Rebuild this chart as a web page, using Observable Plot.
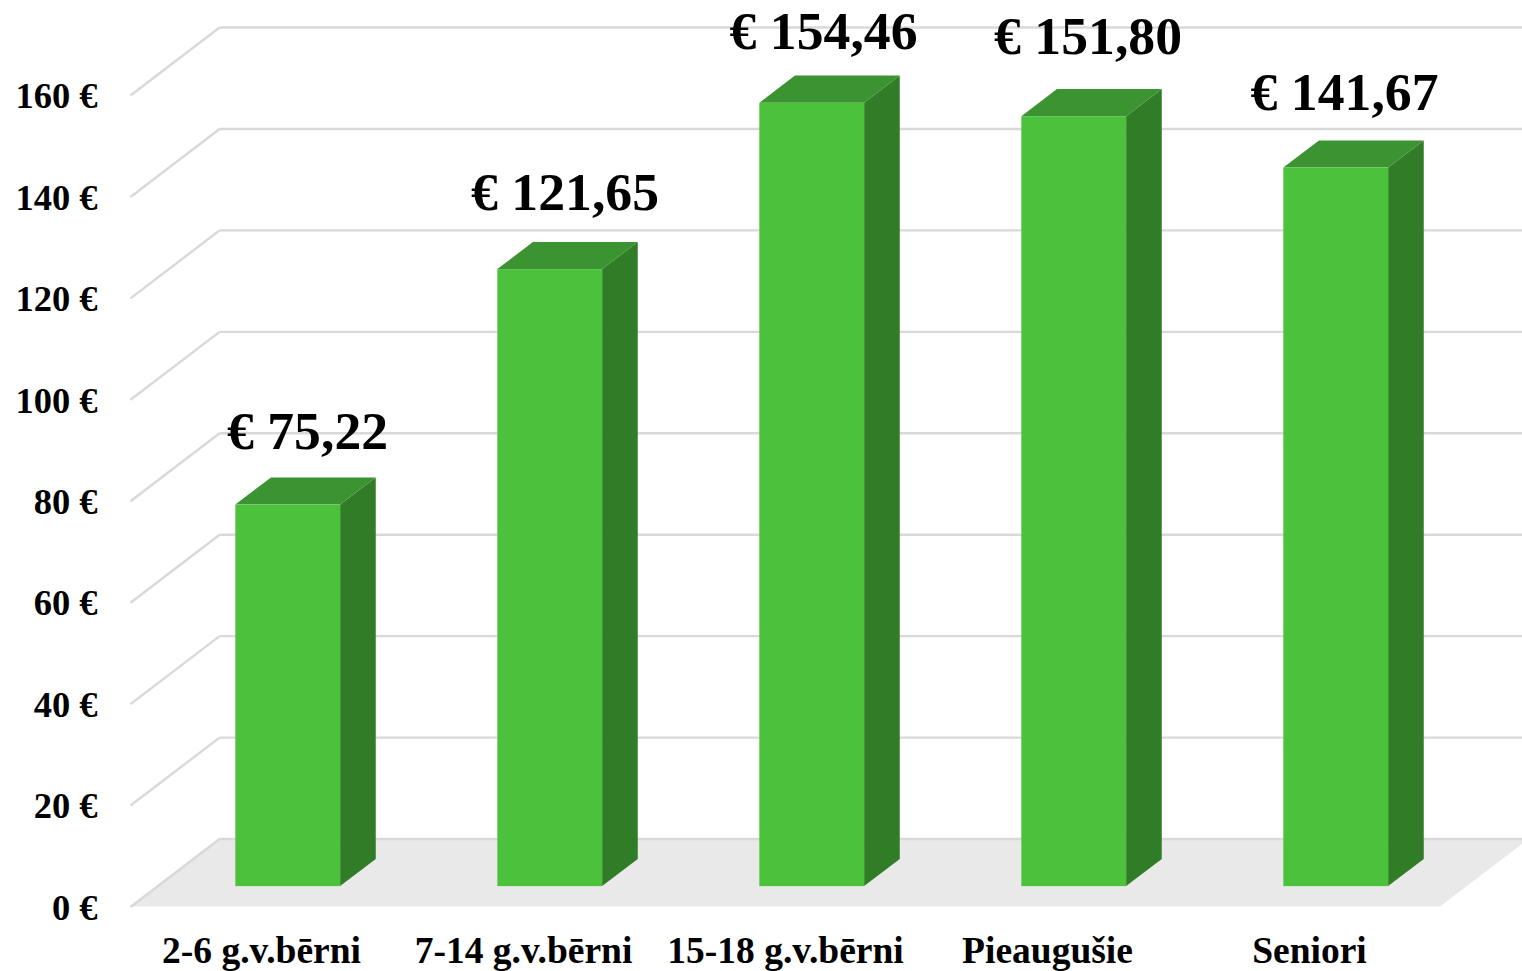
<!DOCTYPE html>
<html><head><meta charset="utf-8">
<script src="https://cdn.jsdelivr.net/npm/d3@7"></script>
<script src="https://cdn.jsdelivr.net/npm/@observablehq/plot@0.6"></script>
<style>html,body{margin:0;padding:0;background:#fff}svg{display:block}</style>
</head><body><div id="c"></div>
<script>
const categories = ["2-6 g.v.bērni","7-14 g.v.bērni","15-18 g.v.bērni","Pieaugušie","Seniori"];
const values = [75.22,121.65,154.46,151.80,141.67];
const valueLabels = ["€ 75,22","€ 121,65","€ 154,46","€ 151,80","€ 141,67"];
const yTicks = [0,20,40,60,80,100,120,140,160];

// Oblique projection: depth d in 0..1 shifts a point right and up, in data units.
const DX = 0.34, DY = 13.4;
const barFrontD = 0.30, barBackD = 0.70, barHalf = 0.2;
const px = (x,d) => x + d*DX, py = (y,d) => y + d*DY;
// The reference's value labels were hand-placed, so each carries its own pixel nudge.
const labelNudgeX = [1.5,-3,-6.5,-4,-9.5], labelNudgeY = [-60,-63,-58,-66,-62];

const rows = categories.map((c,i)=>({c,i,v:values[i],label:valueLabels[i],l:i+.5-barHalf,r:i+.5+barHalf}));

const floor = [{y:py(0,0),x1:0,x2:5},{y:py(0,1),x1:px(0,1),x2:px(5,1)}];

const marks = [
  Plot.areaX(floor,{y:"y",x1:"x1",x2:"x2",fill:"#e9e9e9",curve:"linear"}),
  Plot.link(yTicks,{x1:0,y1:d=>d,x2:px(0,1),y2:d=>py(d,1),stroke:"#d9d9d9",strokeWidth:2.4}),
  Plot.link(yTicks,{x1:px(0,1),y1:d=>py(d,1),x2:px(5,1),y2:d=>py(d,1),stroke:"#d9d9d9",strokeWidth:2.4}),
];
for (const b of rows) {
  marks.push(Plot.areaY([{x:px(b.r,barFrontD),y1:py(0,barFrontD),y2:py(b.v,barFrontD)},{x:px(b.r,barBackD),y1:py(0,barBackD),y2:py(b.v,barBackD)}],
    {x:"x",y1:"y1",y2:"y2",fill:"#317c27"}));
  marks.push(Plot.areaX([{y:py(b.v,barFrontD),x1:px(b.l,barFrontD),x2:px(b.r,barFrontD)},{y:py(b.v,barBackD),x1:px(b.l,barBackD),x2:px(b.r,barBackD)}],
    {y:"y",x1:"x1",x2:"x2",fill:"#3b9331"}));
  marks.push(Plot.rect([b],{x1:d=>px(d.l,barFrontD),x2:d=>px(d.r,barFrontD),y1:d=>py(0,barFrontD),y2:d=>py(d.v,barFrontD),fill:"#4cc13c"}));
  marks.push(Plot.text([b],{x:d=>px(d.i+.5,.5),y:d=>py(d.v,.5),text:"label",dx:labelNudgeX[b.i],dy:labelNudgeY[b.i],fontSize:53.7,fontWeight:"bold",fill:"#000",lineAnchor:"middle"}));
}
marks.push(
  Plot.axisY({ticks:yTicks,tickSize:0,tickPadding:33,dy:1,tickFormat:d=>d+" €",fontSize:36.5,fontWeight:"bold",label:null,fill:"#000"}),
  Plot.axisX({ticks:categories.map((c,i)=>i+.5),tickSize:0,tickPadding:29,tickFormat:(d)=>categories[Math.floor(d)],fontSize:37.5,fontWeight:"bold",label:null,fill:"#000"})
);
const chart = Plot.plot({
  width:1522,height:971,marginLeft:130,marginRight:82,marginTop:95,marginBottom:64.5,
  style:{fontFamily:"'Liberation Serif',serif",background:"#fff"},
  x:{type:"linear",domain:[0,5],range:[130,1440]},
  y:{type:"linear",domain:[0,160],range:[906.5,95]},
  marks
});
document.getElementById("c").append(chart);
</script></body></html>
